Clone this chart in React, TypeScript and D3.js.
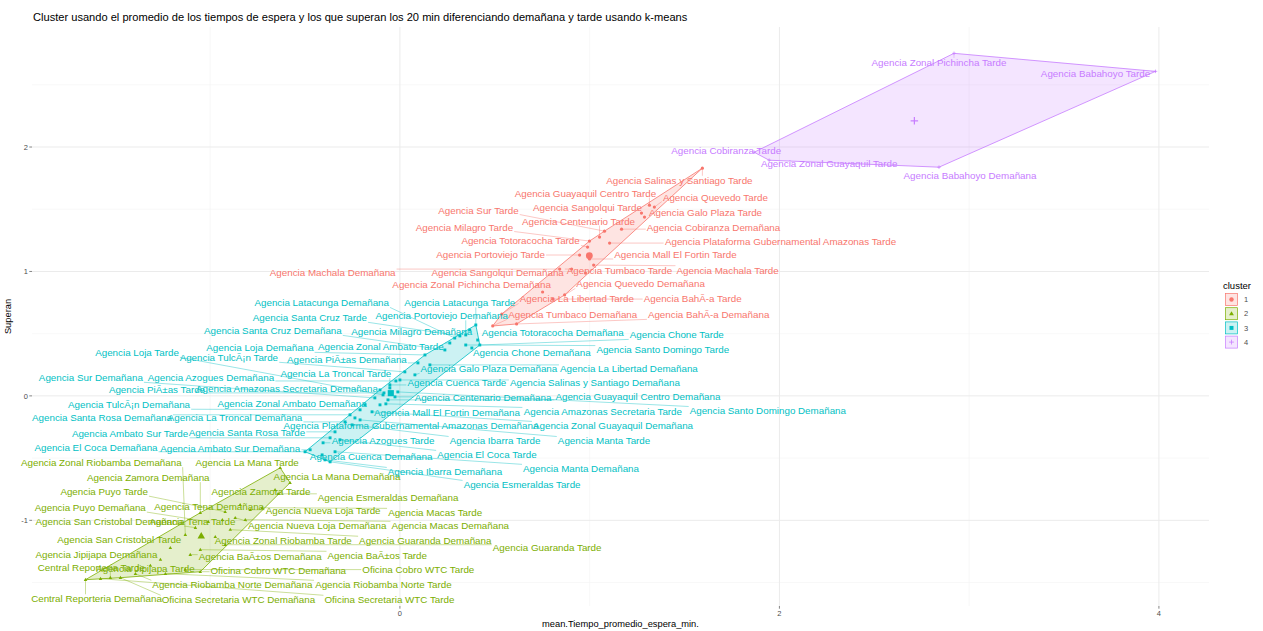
import React from "react";
import * as d3 from "d3";

type Row = [string, number, number];
type Shift = [number, number];

const TITLE =
  "Cluster usando el promedio de los tiempos de espera y los que superan los 20 min diferenciando demañana y tarde usando k-means";
const X_TITLE = "mean.Tiempo_promedio_espera_min.";
const Y_TITLE = "Superan";
const LEGEND_TITLE = "cluster";
const CLUSTER_LEVELS = ["1", "2", "3", "4"];
const X_TICKS = [0, 2, 4];
const Y_TICKS = [-1, 0, 1, 2];
const X_MINOR = [-1, 1, 3];
const Y_MINOR = [-1.5, -0.5, 0.5, 1.5, 2.5];

// [agency, mean waiting time (scaled), share over 20 min (scaled)]
const cluster1: Row[] = [
  ["Agencia Salinas y Santiago Tarde", 1.594, 1.83],
  ["Agencia Guayaquil Centro Tarde", 1.315, 1.533],
  ["Agencia Quevedo Tarde", 1.341, 1.517],
  ["Agencia Sangolqui Tarde", 1.273, 1.469],
  ["Agencia Galo Plaza Tarde", 1.289, 1.437],
  ["Agencia Sur Tarde", 1.078, 1.324],
  ["Agencia Centenario Tarde", 1.052, 1.276],
  ["Agencia Milagro Tarde", 0.999, 1.244],
  ["Agencia Cobiranza Demañana", 1.168, 1.34],
  ["Agencia Totoracocha Tarde", 0.989, 1.196],
  ["Agencia Plataforma Gubernamental Amazonas Tarde", 1.105, 1.228],
  ["Agencia Portoviejo Tarde", 0.947, 1.132],
  ["Agencia Mall El Fortin Tarde", 0.999, 1.1],
  ["Agencia Machala Demañana", 0.842, 1.019],
  ["Agencia Sangolqui Demañana", 0.905, 1.019],
  ["Agencia Tumbaco Tarde", 0.978, 0.987],
  ["Agencia Machala Tarde", 1.021, 1.051],
  ["Agencia Zonal Pichincha Demañana", 0.752, 0.835],
  ["Agencia Quevedo Demañana", 0.868, 0.811],
  ["Agencia La Libertad Tarde", 0.537, 0.658],
  ["Agencia BahÃ-a Tarde", 0.805, 0.778],
  ["Agencia Tumbaco Demañana", 0.489, 0.562],
  ["Agencia BahÃ-a Demañana", 0.615, 0.578],
];

const cluster2: Row[] = [
  ["Agencia La Mana Tarde", -0.631, -0.578],
  ["Agencia La Mana Demañana", -0.579, -0.698],
  ["Agencia Zamora Tarde", -0.658, -0.754],
  ["Agencia Esmeraldas Demañana", -0.642, -0.787],
  ["Agencia Zamora Demañana", -1.052, -0.939],
  ["Agencia Tena Demañana", -0.842, -0.875],
  ["Agencia Nueva Loja Tarde", -0.789, -0.915],
  ["Agencia Macas Tarde", -0.726, -0.899],
  ["Agencia Puyo Tarde", -0.921, -0.931],
  ["Agencia Tena Tarde", -0.936, -0.995],
  ["Agencia Nueva Loja Demañana", -0.868, -0.979],
  ["Agencia Macas Demañana", -0.815, -0.995],
  ["Agencia Puyo Demañana", -1.01, -1.011],
  ["Agencia San Cristobal Demañana", -1.078, -1.059],
  ["Agencia Zonal Riobamba Tarde", -0.973, -1.132],
  ["Agencia Guaranda Demañana", -0.894, -1.075],
  ["Agencia Guaranda Tarde", -0.921, -1.196],
  ["Agencia Zonal Riobamba Demañana", -1.131, -1.116],
  ["Agencia San Cristobal Tarde", -1.21, -1.22],
  ["Agencia BaÃ±os Demañana", -1.105, -1.276],
  ["Agencia BaÃ±os Tarde", -1.052, -1.236],
  ["Agencia Jipijapa Demañana", -1.262, -1.316],
  ["Agencia Jipijapa Tarde", -1.315, -1.364],
  ["Oficina Cobro WTC Demañana", -1.052, -1.413],
  ["Oficina Cobro WTC Tarde", -1.131, -1.396],
  ["Agencia Riobamba Norte Demañana", -1.394, -1.429],
  ["Agencia Riobamba Norte Tarde", -1.236, -1.429],
  ["Central Reporteria Tarde", -1.526, -1.461],
  ["Central Reporteria Demañana", -1.657, -1.477],
  ["Oficina Secretaria WTC Demañana", -1.473, -1.461],
  ["Oficina Secretaria WTC Tarde", -1.578, -1.469],
];

const cluster3: Row[] = [
  ["Agencia Latacunga Tarde", 0.4, 0.57],
  ["Agencia Milagro Demañana", 0.368, 0.53],
  ["Agencia Portoviejo Demañana", 0.347, 0.49],
  ["Agencia Totoracocha Demañana", 0.41, 0.449],
  ["Agencia Chone Tarde", 0.421, 0.409],
  ["Agencia Chone Demañana", 0.379, 0.385],
  ["Agencia Santo Domingo Tarde", 0.347, 0.409],
  ["Agencia Zonal Ambato Tarde", 0.263, 0.425],
  ["Agencia Latacunga Demañana", 0.289, 0.465],
  ["Agencia Santa Cruz Tarde", 0.316, 0.482],
  ["Agencia Santa Cruz Demañana", 0.237, 0.369],
  ["Agencia Galo Plaza Demañana", 0.079, 0.169],
  ["Agencia La Libertad Demañana", 0.158, 0.249],
  ["Agencia Loja Demañana", 0.132, 0.329],
  ["Agencia PiÃ±as Demañana", 0.095, 0.265],
  ["Agencia Cuenca Tarde", -0.053, 0.088],
  ["Agencia Salinas y Santiago Demañana", 0.0, 0.128],
  ["Agencia TulcÃ¡n Tarde", 0.026, 0.193],
  ["Agencia Azogues Demañana", -0.021, 0.12],
  ["Agencia La Troncal Tarde", -0.053, 0.064],
  ["Agencia Centenario Demañana", -0.026, -0.008],
  ["Agencia Guayaquil Centro Demañana", -0.063, -0.032],
  ["Agencia Amazonas Secretaria Demañana", -0.105, 0.048],
  ["Agencia Loja Tarde", -0.089, 0.008],
  ["Agencia Sur Demañana", -0.132, -0.016],
  ["Agencia PiÃ±as Tarde", -0.084, 0.024],
  ["Agencia Mall El Fortin Demañana", -0.105, -0.072],
  ["Agencia Amazonas Secretaria Tarde", -0.074, -0.064],
  ["Agencia Santo Domingo Demañana", -0.011, 0.032],
  ["Agencia Zonal Ambato Demañana", -0.184, -0.072],
  ["Agencia TulcÃ¡n Demañana", -0.21, -0.112],
  ["Agencia Zonal Guayaquil Demañana", -0.147, -0.128],
  ["Agencia Plataforma Gubernamental Amazonas Demañana", -0.237, -0.177],
  ["Agencia Santa Rosa Demañana", -0.263, -0.152],
  ["Agencia La Troncal Demañana", -0.289, -0.209],
  ["Agencia Azogues Tarde", -0.405, -0.377],
  ["Agencia Ibarra Tarde", -0.252, -0.233],
  ["Agencia Manta Tarde", -0.21, -0.193],
  ["Agencia Santa Rosa Tarde", -0.342, -0.289],
  ["Agencia Ambato Sur Tarde", -0.368, -0.337],
  ["Agencia El Coca Tarde", -0.316, -0.353],
  ["Agencia Cuenca Demañana", -0.41, -0.474],
  ["Agencia Ambato Sur Demañana", -0.473, -0.433],
  ["Agencia El Coca Demañana", -0.5, -0.449],
  ["Agencia Ibarra Demañana", -0.395, -0.514],
  ["Agencia Manta Demañana", -0.342, -0.449],
  ["Agencia Esmeraldas Tarde", -0.368, -0.53],
];

const cluster4: Row[] = [
  ["Agencia Cobiranza Tarde", 1.867, 1.958],
  ["Agencia Zonal Pichincha Tarde", 2.92, 2.753],
  ["Agencia Babahoyo Tarde", 3.982, 2.608],
  ["Agencia Babahoyo Demañana", 2.841, 1.838],
  ["Agencia Zonal Guayaquil Tarde", 1.946, 1.894],
];

// Repelled label placement: pixel offset of each label centre from its point
const labelShift1: Shift[] = [
  [-23, 12], [-64, -12], [61, -10], [-54, -6], [61, -5], [-126, -21], [-21, -16],
  [-125, -14], [92, -2], [-67, -6], [171, -2], [-89, 0], [86, -4], [-227, 3],
  [-74, 3], [34, -3], [134, 5], [-71, -7], [76, -11], [75, -15], [140, -1],
  [80, -11], [192, -9],
];
const labelShift2: Shift[] = [
  [-33, -5], [47, -6], [-14, 2], [110, 4], [-52, -35], [-31, 2], [73, 1], [173, 5],
  [-121, -20], [-30, 2], [82, 8], [205, 6], [-118, -14], [-86, -6], [68, 4],
  [195, 11], [322, 3], [-84, -72], [-51, -8], [70, 2], [177, 6], [-64, -5],
  [-5, 3], [78, -1], [233, 0], [97, 11], [218, 11], [-19, -10], [11, 19],
  [118, 22], [289, 21],
];
const labelShift3: Shift[] = [
  [-16, -22], [-58, 2], [-24, -19], [75, -7], [197, -10], [60, 5], [197, 5],
  [-69, 4], [-133, -35], [-150, -18], [-172, -19], [74, -6], [199, 4], [-165, -7],
  [-71, -3], [67, -2], [195, 3], [-176, -14], [-185, -3], [-54, -14], [88, 1],
  [250, -3], [-93, -1], [-246, -42], [-284, -20], [-227, -3], [67, 8], [217, 8],
  [370, 19], [-73, -1], [-231, -5], [241, 14], [56, 8], [-248, 3], [-110, -4],
  [60, -2], [143, 16], [244, 21], [-88, 1], [-200, -4], [147, 15], [49, 2],
  [-80, -1], [-209, -4], [120, 12], [246, 17], [192, 23],
];
const labelShift4: Shift[] = [[-28, -2], [-15, 9], [-60, 2], [31, 8], [60, 3]];

const CLUSTERS = [cluster1, cluster2, cluster3, cluster4];
const SHIFTS = [labelShift1, labelShift2, labelShift3, labelShift4];
const COLORS = ["#F8766D", "#7CAE00", "#00BFC4", "#C77CFF"];
const SHAPES = ["circle", "triangle", "square", "plus"];

const W = 1263;
const H = 631;
const PANEL = { left: 32, right: 1209, top: 27, bottom: 606 };
const FONT = '"Liberation Sans", Arial, Helvetica, sans-serif';
const LABEL_SIZE = 9.8;

let measureCtx: CanvasRenderingContext2D | null = null;
function textWidth(s: string, size: number): number {
  if (!measureCtx) measureCtx = document.createElement("canvas").getContext("2d");
  if (!measureCtx) return s.length * size * 0.52;
  measureCtx.font = `${size}px ${FONT}`;
  return measureCtx.measureText(s).width;
}

function Marker({ kind, x, y, r, color }: { kind: string; x: number; y: number; r: number; color: string }) {
  if (kind === "circle") return <circle cx={x} cy={y} r={r} fill={color} />;
  if (kind === "square")
    return <rect x={x - r * 0.9} y={y - r * 0.9} width={r * 1.8} height={r * 1.8} fill={color} />;
  if (kind === "triangle") {
    const h = r * 1.9;
    const half = r * 1.1;
    return (
      <path
        d={`M${x},${y - h * 0.6}L${x + half},${y + h * 0.4}L${x - half},${y + h * 0.4}Z`}
        fill={color}
      />
    );
  }
  return (
    <g stroke={color} strokeWidth={Math.max(0.7, r * 0.35)}>
      <line x1={x - r * 1.1} x2={x + r * 1.1} y1={y} y2={y} />
      <line x1={x} x2={x} y1={y - r * 1.1} y2={y + r * 1.1} />
    </g>
  );
}

export default function App() {
  const allX = CLUSTERS.flatMap((c) => c.map((d) => d[1]));
  const allY = CLUSTERS.flatMap((c) => c.map((d) => d[2]));
  const [x0, x1] = d3.extent(allX) as [number, number];
  const [y0, y1] = d3.extent(allY) as [number, number];
  const ex = (x1 - x0) * 0.05;
  const ey = (y1 - y0) * 0.05;
  const x = d3.scaleLinear().domain([x0 - ex, x1 + ex]).range([PANEL.left, PANEL.right]);
  const y = d3.scaleLinear().domain([y0 - ey, y1 + ey]).range([PANEL.bottom, PANEL.top]);

  const groups = CLUSTERS.map((rows, ci) => {
    const pts = rows.map((d) => [x(d[1]), y(d[2])] as [number, number]);
    const hull = d3.polygonHull(pts) || pts;
    const cx = x(d3.mean(rows, (d) => d[1]) as number);
    const cy = y(d3.mean(rows, (d) => d[2]) as number);
    const labels = rows.map((d, i) => {
      const [px, py] = pts[i];
      const [dx, dy] = SHIFTS[ci][i];
      const lx = px + dx;
      const ly = py + dy;
      const w = textWidth(d[0], LABEL_SIZE);
      const hh = LABEL_SIZE * 0.45;
      const hw = w / 2 + 1;
      const qx = Math.max(lx - hw, Math.min(px, lx + hw));
      const qy = Math.max(ly - hh, Math.min(py, ly + hh));
      const len = Math.hypot(px - qx, py - qy);
      return { name: d[0], px, py, lx, ly, qx, qy, showSeg: len > 4 };
    });
    return { ci, pts, hull, cx, cy, labels, color: COLORS[ci], shape: SHAPES[ci] };
  });

  const gridMajor = "#EBEBEB";
  const gridMinor = "#F4F4F4";
  const tickColor = "#4D4D4D";

  return (
    <svg
      width={W}
      height={H}
      style={{ position: "absolute", left: 0, top: 0, background: "#fff" }}
      fontFamily={FONT}
    >
      <rect width={W} height={H} fill="#fff" />
      {/* grid */}
      <g>
        {X_MINOR.map((v) => (
          <line key={`xm${v}`} x1={x(v)} x2={x(v)} y1={PANEL.top} y2={PANEL.bottom} stroke={gridMinor} strokeWidth={0.6} />
        ))}
        {Y_MINOR.map((v) => (
          <line key={`ym${v}`} x1={PANEL.left} x2={PANEL.right} y1={y(v)} y2={y(v)} stroke={gridMinor} strokeWidth={0.6} />
        ))}
        {X_TICKS.map((v) => (
          <line key={`xM${v}`} x1={x(v)} x2={x(v)} y1={PANEL.top} y2={PANEL.bottom} stroke={gridMajor} strokeWidth={1} />
        ))}
        {Y_TICKS.map((v) => (
          <line key={`yM${v}`} x1={PANEL.left} x2={PANEL.right} y1={y(v)} y2={y(v)} stroke={gridMajor} strokeWidth={1} />
        ))}
      </g>

      {/* axes ticks and labels */}
      <g fill={tickColor} fontSize={7.5}>
        {X_TICKS.map((v) => (
          <g key={`xt${v}`}>
            <line x1={x(v)} x2={x(v)} y1={PANEL.bottom} y2={PANEL.bottom + 2.7} stroke={"#333"} strokeWidth={0.6} />
            <text x={x(v)} y={PANEL.bottom + 10} textAnchor="middle">
              {v}
            </text>
          </g>
        ))}
        {Y_TICKS.map((v) => (
          <g key={`yt${v}`}>
            <line x1={PANEL.left - 2.7} x2={PANEL.left} y1={y(v)} y2={y(v)} stroke={"#333"} strokeWidth={0.6} />
            <text x={PANEL.left - 4} y={y(v)} dy="0.35em" textAnchor="end">
              {v}
            </text>
          </g>
        ))}
      </g>
      <text x={(PANEL.left + PANEL.right) / 2} y={627} textAnchor="middle" fontSize={9.3} fill="#000">
        {X_TITLE}
      </text>
      <text
        transform={`translate(11,${(PANEL.top + PANEL.bottom) / 2}) rotate(-90)`}
        textAnchor="middle"
        fontSize={9.3}
        fill="#000"
      >
        {Y_TITLE}
      </text>
      <text x={33} y={21} fontSize={11.1} fill="#000">
        {TITLE}
      </text>

      {/* points */}
      {groups.map((g) => (
        <g key={`p${g.ci}`}>
          {g.pts.map(([px, py], i) => (
            <Marker key={i} kind={g.shape} x={px} y={py} r={1.6} color={g.color} />
          ))}
        </g>
      ))}

      {/* convex hulls */}
      {groups.map((g) => (
        <path
          key={`h${g.ci}`}
          d={`M${g.hull.map((p) => p.join(",")).join("L")}Z`}
          fill={g.color}
          fillOpacity={0.2}
          stroke={g.color}
          strokeWidth={0.8}
        />
      ))}

      {/* cluster centres */}
      {groups.map((g) => (
        <Marker key={`c${g.ci}`} kind={g.shape} x={g.cx} y={g.cy} r={3.4} color={g.color} />
      ))}

      {/* repelled labels */}
      {groups.map((g) => (
        <g key={`l${g.ci}`}>
          {g.labels.map((l, i) =>
            l.showSeg ? (
              <line
                key={i}
                x1={l.px}
                y1={l.py}
                x2={l.qx}
                y2={l.qy}
                stroke={g.color}
                strokeWidth={0.5}
                strokeOpacity={0.8}
              />
            ) : null
          )}
          {g.labels.map((l, i) => (
            <text key={`t${i}`} x={l.lx} y={l.ly} dy="0.35em" textAnchor="middle" fontSize={LABEL_SIZE} fill={g.color}>
              {l.name}
            </text>
          ))}
        </g>
      ))}

      {/* legend */}
      <g>
        <text x={1223} y={289} fontSize={9.5} fill="#000">
          {LEGEND_TITLE}
        </text>
        {CLUSTER_LEVELS.map((lv, i) => {
          const ky = 293 + i * 14.2;
          return (
            <g key={lv}>
              <rect x={1225} y={ky} width={13} height={13} fill="#fff" />
              <rect
                x={1225.5}
                y={ky + 0.5}
                width={12}
                height={12}
                fill={COLORS[i]}
                fillOpacity={0.2}
                stroke={COLORS[i]}
                strokeWidth={0.7}
              />
              <Marker kind={SHAPES[i]} x={1231.5} y={ky + 6.5} r={2.2} color={COLORS[i]} />
              <text x={1244} y={ky + 6.5} dy="0.35em" fontSize={7.5} fill={tickColor}>
                {lv}
              </text>
            </g>
          );
        })}
      </g>
    </svg>
  );
}
